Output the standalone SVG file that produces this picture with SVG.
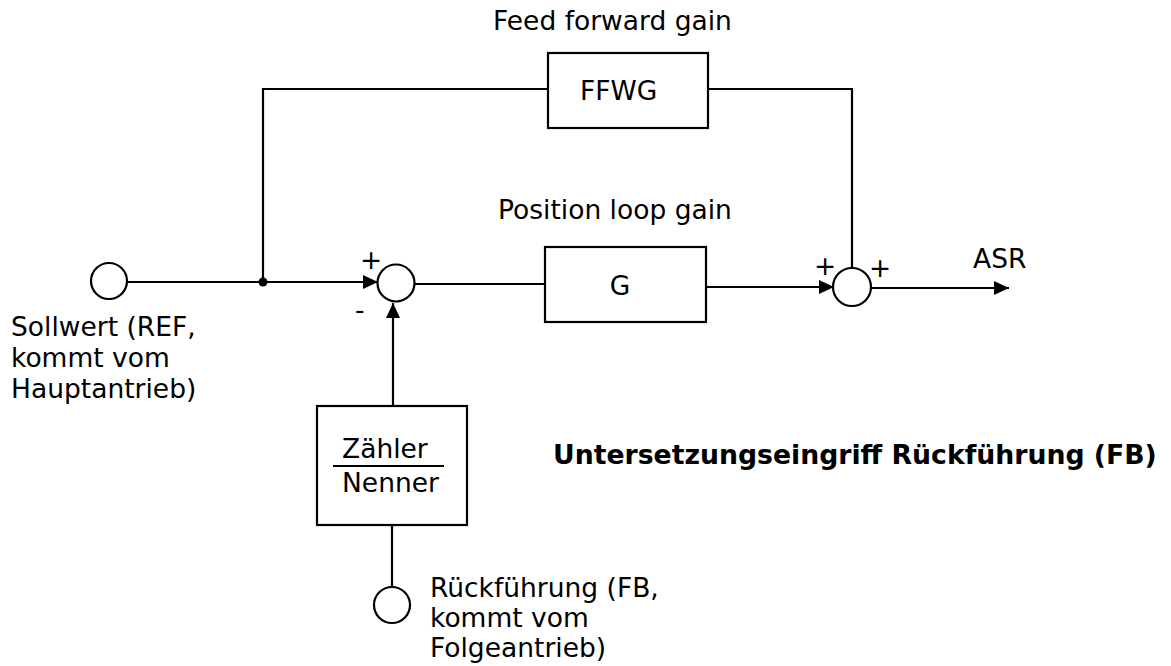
<svg xmlns="http://www.w3.org/2000/svg" width="1171" height="666" viewBox="0 0 1171 666">
  <style>
    .ln { stroke: #000; stroke-width: 2.2; fill: none; }
    .blk { stroke: #000; stroke-width: 2.2; fill: #fff; }
    .t { font-family: "DejaVu Sans", Verdana, sans-serif; font-size: 26.5px; fill: #000; }
    .b { font-family: "DejaVu Sans", Verdana, sans-serif; font-size: 26.7px; font-weight: bold; fill: #000; }
  </style>
  <defs>
    <marker id="arr" markerUnits="userSpaceOnUse" markerWidth="16" markerHeight="14" refX="15" refY="7" orient="auto">
      <path d="M0,0 L15,7 L0,14 z" fill="#000"/>
    </marker>
  </defs>
  <rect width="1171" height="666" fill="#fff"/>

  <!-- connectors -->
  <g id="connectors">
    <line class="ln" x1="127" y1="282" x2="378" y2="282" marker-end="url(#arr)"/>
    <polyline class="ln" points="263,282 263,89 548,89"/>
    <polyline class="ln" points="708,89 852,89 852,268"/>
    <line class="ln" x1="414" y1="284" x2="545" y2="284"/>
    <line class="ln" x1="706" y1="287" x2="834" y2="287" marker-end="url(#arr)"/>
    <line class="ln" x1="871" y1="288" x2="1009" y2="288" marker-end="url(#arr)"/>
    <line class="ln" x1="393" y1="406" x2="393" y2="303" marker-end="url(#arr)"/>
    <line class="ln" x1="392" y1="525" x2="392" y2="587"/>
    <circle cx="263" cy="282" r="4.5" fill="#000"/>
  </g>

  <!-- reference input -->
  <g id="ref-in">
    <circle class="blk" cx="109" cy="281" r="18"/>
    <text class="t" x="11" y="336">Sollwert (REF,</text>
    <text class="t" x="11" y="367">kommt vom</text>
    <text class="t" x="11" y="398">Hauptantrieb)</text>
  </g>

  <!-- first summing point -->
  <g id="sum1">
    <circle class="blk" cx="396" cy="283" r="18.5"/>
    <text class="t" x="360" y="269">+</text>
    <text class="t" x="355" y="319">-</text>
  </g>

  <!-- feed forward gain -->
  <g id="ffwg">
    <text class="t" x="493" y="30">Feed forward gain</text>
    <rect class="blk" x="548" y="53" width="160" height="75"/>
    <text class="t" x="580" y="100">FFWG</text>
  </g>

  <!-- position loop gain -->
  <g id="gain">
    <text class="t" x="498" y="219">Position loop gain</text>
    <rect class="blk" x="545" y="247" width="161" height="75"/>
    <text class="t" x="620" y="295" text-anchor="middle">G</text>
  </g>

  <!-- second summing point -->
  <g id="sum2">
    <circle class="blk" cx="852" cy="287" r="19"/>
    <text class="t" x="814" y="275">+</text>
    <text class="t" x="869" y="277">+</text>
  </g>

  <!-- output -->
  <g id="asr">
    <text class="t" x="973" y="268">ASR</text>
  </g>

  <!-- gear ratio -->
  <g id="ratio">
    <rect class="blk" x="317" y="406" width="150" height="119"/>
    <text class="t" x="342" y="458">Zähler</text>
    <line class="ln" x1="333" y1="466" x2="444" y2="466"/>
    <text class="t" x="342" y="492">Nenner</text>
  </g>

  <!-- feedback input -->
  <g id="fb-in">
    <circle class="blk" cx="392" cy="605" r="18"/>
    <text class="t" x="430" y="597">Rückführung (FB,</text>
    <text class="t" x="430" y="627">kommt vom</text>
    <text class="t" x="430" y="657">Folgeantrieb)</text>
  </g>

  <g id="caption">
    <text class="b" x="553" y="464">Untersetzungseingriff Rückführung (FB)</text>
  </g>
</svg>
